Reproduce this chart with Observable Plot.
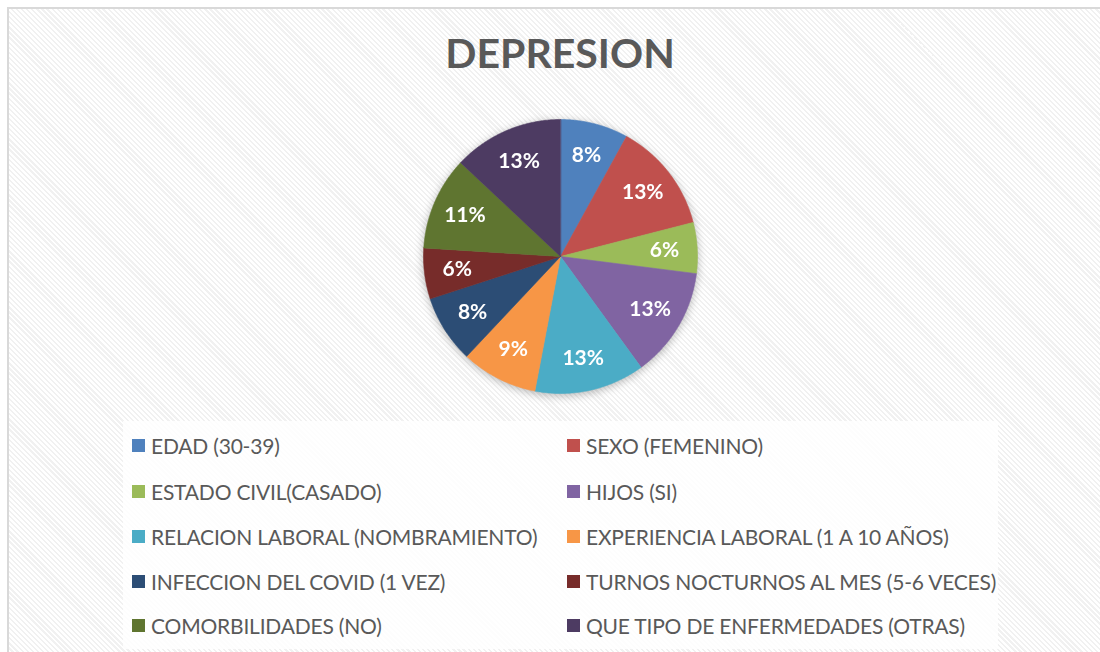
<!DOCTYPE html>
<html>
<head>
<meta charset="utf-8">
<script src="https://cdn.jsdelivr.net/npm/d3@7"></script>
<script src="https://cdn.jsdelivr.net/npm/@observablehq/plot@0.6"></script>
<style>
  html, body { margin: 0; padding: 0; background: #fff; overflow: hidden; }
  #page { position: relative; width: 1100px; height: 652px; overflow: hidden; background: #fff; font-family: Lato, "Open Sans", sans-serif; }
  #frame { position: absolute; left: 7px; top: 7px; width: 1093px; height: 645px; box-sizing: border-box;
    border-left: 2px solid #D9D9D9; border-top: 2px solid #D9D9D9;
    background: repeating-linear-gradient(45deg, #ffffff 0px, #ffffff 2px, #f1f1f1 2px, #f1f1f1 3.6px); }
  #title { position: absolute; left: 0; width: 1120px; top: 28px; text-align: center; font-weight: 700; font-size: 41px; color: #595959; }
  #pie { position: absolute; left: 410px; top: 106px; filter: drop-shadow(0px 2px 4px rgba(0,0,0,0.28)); }
  #legend { position: absolute; left: 123px; top: 421px; width: 875px; height: 228px; background: rgba(255,255,255,0.82); }
  .item { position: absolute; display: flex; align-items: center; font-size: 21px; letter-spacing: -0.2px; color: #595959; white-space: nowrap; }
  .sw { width: 13px; height: 13px; margin-right: 6px; flex: none; }
</style>
</head>
<body>
<div id="page">
  <div id="frame"></div>
  <div id="title">DEPRESION</div>
  <div id="pie"></div>
  <div id="legend"></div>
</div>
<script>
const categories = [
  "EDAD (30-39)",
  "SEXO (FEMENINO)",
  "ESTADO CIVIL(CASADO)",
  "HIJOS (SI)",
  "RELACION LABORAL (NOMBRAMIENTO)",
  "EXPERIENCIA LABORAL (1 A 10 AÑOS)",
  "INFECCION DEL COVID (1 VEZ)",
  "TURNOS NOCTURNOS AL MES (5-6 VECES)",
  "COMORBILIDADES (NO)",
  "QUE TIPO DE ENFERMEDADES (OTRAS)"
];
const values = [8, 13, 6, 13, 13, 9, 8, 6, 11, 13];
const colors = ["#4F81BD", "#C0504D", "#9BBB59", "#8064A2", "#4BACC6", "#F79646", "#2C4D75", "#772C2A", "#5F7530", "#4D3B62"];

const total = d3.sum(values);
const R = 137, half = 150;
const D = half / R;

// Build slice polygons (clockwise from 12 o'clock) from the values
const pts = [];
const labelPts = [];
let cum = 0;
values.forEach((v, i) => {
  const a0 = cum / total * 2 * Math.PI;
  const a1 = (cum + v) / total * 2 * Math.PI;
  const name = categories[i];
  pts.push({name, x: 0, y: 0});
  const n = Math.max(2, Math.ceil((a1 - a0) / (Math.PI / 360)));
  for (let k = 0; k <= n; k++) {
    const a = a0 + (a1 - a0) * k / n;
    pts.push({name, x: Math.sin(a), y: Math.cos(a)});
  }
  const am = (a0 + a1) / 2;
  labelPts.push({name, x: 0.76 * Math.sin(am), y: 0.76 * Math.cos(am), text: Math.round(v / total * 100) + "%"});
  cum += v;
});

const chart = Plot.plot({
  width: 2 * half, height: 2 * half,
  margin: 0,
  x: {domain: [-D, D], axis: null},
  y: {domain: [-D, D], axis: null},
  color: {domain: categories, range: colors},
  style: {background: "transparent", overflow: "visible"},
  marks: [
    Plot.line(pts, {x: "x", y: "y", z: "name", fill: "name", stroke: "name", strokeWidth: 0.6, curve: "linear-closed"}),
    Plot.text(labelPts, {x: "x", y: "y", text: "text", fill: "white", fontWeight: "bold", fontSize: 21, fontFamily: "Lato, 'Open Sans', sans-serif"})
  ]
});
document.getElementById("pie").appendChild(chart);

// Legend: two columns, rows in pairs
const legend = document.getElementById("legend");
const rowTops = [24, 70, 115, 160, 204];
categories.forEach((c, i) => {
  const row = Math.floor(i / 2), col = i % 2;
  const el = document.createElement("div");
  el.className = "item";
  el.style.left = (col === 0 ? 9 : 444) + "px";
  el.style.top = (rowTops[row] - 13) + "px";
  el.style.height = "26px";
  const sw = document.createElement("span");
  sw.className = "sw";
  sw.style.background = colors[i];
  const tx = document.createElement("span");
  tx.textContent = c;
  el.appendChild(sw); el.appendChild(tx);
  legend.appendChild(el);
});
</script>
</body>
</html>
